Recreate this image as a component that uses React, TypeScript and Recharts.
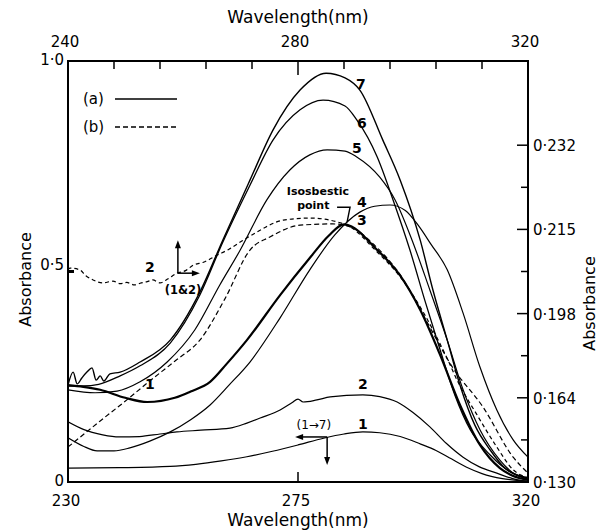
import React from "react";
import * as Recharts from "recharts";

const { LineChart, Line, XAxis, YAxis, ReferenceDot, Legend } = Recharts;
const RC: any = Recharts;

const FONT = "'DejaVu Sans', sans-serif";

const curve1 = [[230,0.033],[240,0.034],[250,0.037],[255,0.042],[260,0.05],[265,0.06],[270,0.073],[275,0.088],[280,0.104],[284,0.114],[287.7,0.119],[291,0.117],[295,0.108],[299,0.09],[302,0.075],[305,0.055],[308,0.035],[311,0.02],[315,0.008],[320,0.002]];
const curve2 = [[230,0.143],[233,0.125],[236.8,0.112],[240,0.107],[244,0.108],[248,0.114],[251.3,0.119],[256,0.123],[261.7,0.128],[265,0.14],[267.6,0.152],[271.5,0.171],[273.8,0.188],[275,0.197],[276,0.19],[278.7,0.195],[281.3,0.202],[287.7,0.207],[291,0.203],[294.4,0.19],[297.5,0.165],[300.8,0.131],[304,0.092],[307.3,0.059],[310.5,0.036],[313.9,0.021],[317,0.008],[320,0.001]];
const curve3 = [[230,0.23],[233,0.226],[236.3,0.219],[241.2,0.2],[245.5,0.19],[250.9,0.2],[254,0.215],[257.8,0.238],[261,0.28],[265,0.337],[271.5,0.444],[277.3,0.532],[281,0.585],[284,0.612],[285.5,0.607],[290.1,0.556],[295,0.49],[298.9,0.409],[302.8,0.302],[306.7,0.183],[310.6,0.088],[314.5,0.033],[317,0.015],[320,0.005]];
const curve4 = [[230,0.105],[233,0.085],[235.7,0.074],[239,0.074],[242.1,0.081],[246,0.097],[250,0.119],[254,0.148],[257.8,0.183],[261.5,0.23],[265.6,0.285],[271.5,0.39],[277.3,0.504],[282.2,0.587],[287.1,0.641],[290,0.655],[293,0.658],[296,0.645],[298.5,0.61],[301,0.565],[304.2,0.504],[307.3,0.401],[310.6,0.273],[313.9,0.171],[317.1,0.1],[320,0.059]];
const curve5 = [[230,0.219],[235.3,0.212],[239.6,0.216],[244.1,0.238],[249.4,0.285],[254.8,0.361],[259.7,0.468],[263.7,0.551],[268.9,0.67],[273.4,0.741],[277.3,0.777],[280.7,0.789],[284.2,0.786],[286.5,0.772],[291,0.724],[294,0.67],[297.3,0.575],[300.8,0.456],[304.2,0.337],[307.3,0.219],[310.6,0.124],[314.5,0.052],[317,0.022],[320,0.007]];
const curve6 = [[230,0.228],[233,0.228],[236,0.232],[240.2,0.252],[244.1,0.276],[250,0.33],[255.8,0.444],[260.3,0.57],[265.6,0.705],[270.1,0.812],[275.4,0.884],[279.9,0.907],[284.2,0.893],[286.5,0.86],[290.5,0.772],[293.6,0.67],[296.9,0.551],[299.8,0.432],[302.8,0.314],[305.7,0.206],[308.7,0.124],[312.6,0.064],[316.5,0.024],[320,0.007]];
const curve7 = [[230,0.23],[231,0.261],[231.8,0.233],[232.7,0.247],[233.7,0.261],[234.7,0.271],[235.5,0.242],[236.3,0.252],[237,0.24],[238.2,0.257],[240.2,0.261],[244.1,0.285],[250,0.337],[255.8,0.451],[260.3,0.575],[265.6,0.717],[270.1,0.836],[275.4,0.931],[280.5,0.971],[284.2,0.96],[287.1,0.931],[291.6,0.812],[295,0.717],[298.9,0.575],[301.4,0.456],[304.2,0.337],[306.7,0.23],[309.6,0.135],[312.6,0.076],[315.5,0.033],[320,0.01]];
const dashed1 = [[230,0.083],[236.3,0.145],[241,0.19],[246,0.24],[251,0.288],[255.8,0.337],[260.7,0.435],[265.6,0.551],[269.5,0.582],[275.4,0.61],[281.8,0.613],[285.2,0.606],[290.1,0.561],[295,0.492],[299.8,0.39],[305.2,0.273],[311.2,0.178],[317.1,0.059],[320,0.021]];
const dashed2 = [[230,0.504],[230.4,0.508],[232.3,0.504],[233.5,0.49],[234.9,0.48],[236.8,0.473],[238.8,0.477],[240.2,0.471],[241.5,0.474],[243,0.468],[244.1,0.472],[245.5,0.476],[246.6,0.48],[248,0.473],[249.5,0.482],[251.3,0.496],[253,0.502],[254.5,0.515],[256.5,0.522],[259.2,0.539],[261.5,0.553],[263.7,0.57],[267,0.594],[272.1,0.622],[277.3,0.627],[282.6,0.618],[285.2,0.606],[290.1,0.551],[295,0.487],[299.8,0.397],[304.2,0.293],[306.2,0.24],[310,0.16],[313.9,0.083],[317.1,0.029],[320,0.01]];

const series = [
  { id: "a1", pts: curve1, dash: undefined, w: 1.2 },
  { id: "a2", pts: curve2, dash: undefined, w: 1.2 },
  { id: "a3", pts: curve3, dash: undefined, w: 2.2 },
  { id: "a4", pts: curve4, dash: undefined, w: 1.2 },
  { id: "a5", pts: curve5, dash: undefined, w: 1.2 },
  { id: "a6", pts: curve6, dash: undefined, w: 1.3 },
  { id: "a7", pts: curve7, dash: undefined, w: 1.4 },
  { id: "b1", pts: dashed1, dash: "5 3", w: 1.2 },
  { id: "b2", pts: dashed2, dash: "4 3", w: 1.2 },
];

const bottomDomain = [230, 320];
const bottomTicks = [230, 275, 320];
const topDomain = [240, 320];
const topTicks = [240, 248, 256, 264, 272, 280, 288, 296, 304, 312, 320];
const topLabelled = [240, 280, 320];
const leftTicks = [0, 0.5, 1];
const leftLabels = ["0", "0·5", "1·0"];
const rightTicks = [0, 0.1, 0.2, 0.3, 0.4, 0.5, 0.6, 0.7, 0.8];
const rightLabels = ["0·130", "", "0·164", "", "0·198", "", "0·215", "", "0·232"];

const annotations = [
  { l: 287.3, a: 0.945, text: "7", size: 14, bold: true },
  { l: 287.5, a: 0.853, text: "6", size: 14, bold: true },
  { l: 286.5, a: 0.793, text: "5", size: 14, bold: true },
  { l: 287.5, a: 0.665, text: "4", size: 14, bold: true },
  { l: 287.5, a: 0.622, text: "3", size: 14, bold: true },
  { l: 278.9, a: 0.69, text: "Isosbestic", size: 11, bold: true },
  { l: 278.0, a: 0.658, text: "point", size: 11, bold: true },
  { l: 287.7, a: 0.232, text: "2", size: 14, bold: true },
  { l: 287.7, a: 0.137, text: "1", size: 14, bold: true },
  { l: 278.1, a: 0.137, text: "(1→7)", size: 12, bold: false },
  { l: 246.0, a: 0.232, text: "1", size: 14, bold: true },
  { l: 246.0, a: 0.51, text: "2", size: 14, bold: true },
  { l: 252.5, a: 0.456, text: "(1&2)", size: 11.5, bold: true },
];

// arrow origins (data coords) and the pixel legs drawn from them
const arrows = [
  { l: 251.5, a: 0.496, legs: [[0, -33], [22, 0]] },
  { l: 280.7, a: 0.107, legs: [[-32, 0], [0, 28]] },
];
const isosbestic = { l: 284.6, a: 0.61 };

const legendItems = [
  { label: "(a)", dash: undefined },
  { label: "(b)", dash: "5 3" },
];

function toRows(pts: number[][]) {
  return pts.map(([l, a]) => ({ l, a }));
}

// plot rectangle from the chart itself (falls back to the layout margins)
const usePlot: () => any = RC.usePlotArea ? RC.usePlotArea : () => null;

function FrameAndTopAxis() {
  const pa = usePlot() || { x: 68, y: 61, width: 460, height: 421 };
  const { x, y, width, height } = pa;
  const topX = (t: number) => x + ((t - topDomain[0]) / (topDomain[1] - topDomain[0])) * width;
  const botX = (t: number) => x + ((t - bottomDomain[0]) / (bottomDomain[1] - bottomDomain[0])) * width;
  return (
    <g>
      <rect x={x} y={y} width={width} height={height} fill="none" stroke="#000" strokeWidth={2} />
      {topTicks.map((t) => {
        const tx = topX(t);
        const edge = t === topDomain[0] || t === topDomain[1];
        return (
          <g key={t}>
            {!edge && (
              <line x1={tx} y1={y} x2={tx} y2={y + (t === 280 ? 14 : 8)} stroke="#000" strokeWidth={1.5} />
            )}
            {topLabelled.includes(t) && (
              <text x={tx - 3} y={y - 14} textAnchor="middle" fontFamily={FONT} fontSize={15} fill="#000">
                {String(t)}
              </text>
            )}
          </g>
        );
      })}
      <line x1={botX(275)} y1={y + height} x2={botX(275)} y2={y + height - 10} stroke="#000" strokeWidth={1.5} />
      <text x={x + width / 2} y={y - 38} textAnchor="middle" fontFamily={FONT} fontSize={17} fill="#000">
        Wavelength(nm)
      </text>
    </g>
  );
}

function BottomTick(props: any) {
  const x = Number(props.x);
  const y = Number(props.y);
  const v = Number(props.payload.value);
  return (
    <text x={x - 2} y={y + 24} textAnchor="middle" fontFamily={FONT} fontSize={15} fill="#000">
      {String(v)}
    </text>
  );
}

function LeftTick(props: any) {
  const { x, y, index } = props;
  const dy = [4, -2, 4][index] ?? 0;
  return (
    <g>
      {index === 1 && <line x1={x} y1={y} x2={x + 6} y2={y} stroke="#000" strokeWidth={3} />}
      <text x={x - 4} y={y + dy} textAnchor="end" fontFamily={FONT} fontSize={15} fill="#000">
        {leftLabels[index]}
      </text>
    </g>
  );
}

function RightTick(props: any) {
  const { x, y, index } = props;
  const major = index % 2 === 0;
  return (
    <g>
      {index > 0 && (
        <line x1={x} y1={y} x2={x - (major ? 11 : 7)} y2={y} stroke="#000" strokeWidth={1.5} />
      )}
      <text x={x + 5} y={y + 6} textAnchor="start" fontFamily={FONT} fontSize={15} fill="#000">
        {rightLabels[index]}
      </text>
    </g>
  );
}

function YTitle(props: any, dx: number, dy: number) {
  const { viewBox } = props;
  const cx = viewBox.x + dx;
  const cy = viewBox.y + viewBox.height / 2 + dy;
  return (
    <text
      x={cx}
      y={cy}
      transform={`rotate(-90 ${cx} ${cy})`}
      textAnchor="middle"
      dominantBaseline="central"
      fontFamily={FONT}
      fontSize={16}
      fill="#000"
    >
      Absorbance
    </text>
  );
}

function LegendBox() {
  return (
    <div style={{ fontFamily: FONT, fontSize: 15, color: "#000" }}>
      {legendItems.map((it) => (
        <div key={it.label} style={{ display: "flex", alignItems: "center", height: 28 }}>
          <span style={{ width: 32 }}>{it.label}</span>
          <svg width={62} height={4}>
            <line x1={0} y1={2} x2={62} y2={2} stroke="#000" strokeWidth={1.3} strokeDasharray={it.dash} />
          </svg>
        </div>
      ))}
    </div>
  );
}

export default function App() {
  return (
    <div style={{ position: "absolute", left: 0, top: 0, background: "#fff" }}>
      <LineChart width={603} height={531} margin={{ top: 61, right: 74, bottom: 29, left: 67 }}>
        <XAxis
          xAxisId="b"
          dataKey="l"
          type="number"
          domain={bottomDomain}
          ticks={bottomTicks}
          interval={0}
          allowDataOverflow
          height={20}
          tickSize={0}
          tickMargin={0}
          tickLine={false}
          tick={<BottomTick />}
          axisLine={{ stroke: "#000", strokeWidth: 2 }}
          label={{ value: "Wavelength(nm)", position: "bottom", offset: 12, fontFamily: FONT, fontSize: 17, fill: "#000" }}
        />
        <YAxis
          yAxisId="l"
          type="number"
          domain={[0, 1]}
          ticks={leftTicks}
          interval={0}
          allowDataOverflow
          width={1}
          tickSize={0}
          tickMargin={0}
          tickLine={false}
          tick={<LeftTick />}
          axisLine={{ stroke: "#000", strokeWidth: 2 }}
          label={{ content: (p: any) => YTitle(p, -42, 8) }}
        />
        <YAxis
          yAxisId="r"
          orientation="right"
          type="number"
          domain={[0, 1]}
          ticks={rightTicks}
          interval={0}
          allowDataOverflow
          width={1}
          tickSize={0}
          tickMargin={0}
          tickLine={false}
          tick={<RightTick />}
          axisLine={{ stroke: "#000", strokeWidth: 2 }}
          label={{ content: (p: any) => YTitle(p, 61, 32) }}
        />
        <FrameAndTopAxis />
        {series.map((s) => (
          <Line
            key={s.id}
            xAxisId="b"
            yAxisId="l"
            data={toRows(s.pts)}
            dataKey="a"
            type="monotone"
            stroke="#000"
            strokeWidth={s.w}
            strokeDasharray={s.dash}
            dot={false}
            activeDot={false}
            isAnimationActive={false}
          />
        ))}
        {annotations.map((an, i) => (
          <ReferenceDot
            key={"an" + i}
            xAxisId="b"
            yAxisId="l"
            x={an.l}
            y={an.a}
            shape={(p: any) => (
              <text
                x={p.cx}
                y={p.cy}
                dy="0.35em"
                textAnchor="middle"
                fontFamily={FONT}
                fontSize={an.size}
                fontWeight={an.bold ? "bold" : "normal"}
                fill="#000"
              >
                {an.text}
              </text>
            )}
          />
        ))}
        {arrows.map((ar, i) => (
          <ReferenceDot
            key={"ar" + i}
            xAxisId="b"
            yAxisId="l"
            x={ar.l}
            y={ar.a}
            shape={(p: any) => (
              <g>
                {ar.legs.map(([dx, dy], j) => {
                  const ex = p.cx + dx;
                  const ey = p.cy + dy;
                  const len = Math.hypot(dx, dy);
                  const ux = dx / len;
                  const uy = dy / len;
                  const head = `M${ex},${ey} L${ex - ux * 8 - uy * 3},${ey - uy * 8 + ux * 3} L${ex - ux * 8 + uy * 3},${ey - uy * 8 - ux * 3} Z`;
                  return (
                    <g key={j}>
                      <line x1={p.cx} y1={p.cy} x2={ex - ux * 4} y2={ey - uy * 4} stroke="#000" strokeWidth={1.5} />
                      <path d={head} fill="#000" />
                    </g>
                  );
                })}
              </g>
            )}
          />
        ))}
        <ReferenceDot
          xAxisId="b"
          yAxisId="l"
          x={isosbestic.l}
          y={isosbestic.a}
          shape={(p: any) => (
            <path
              d={`M${p.cx - 10},${p.cy - 18} H${p.cx + 3} L${p.cx},${p.cy - 3}`}
              fill="none"
              stroke="#000"
              strokeWidth={1.4}
            />
          )}
        />
        <Legend
          layout="vertical"
          align="center"
          verticalAlign="middle"
          content={<LegendBox />}
          wrapperStyle={{ left: 83, top: 85, width: "auto" }}
        />
      </LineChart>
    </div>
  );
}
